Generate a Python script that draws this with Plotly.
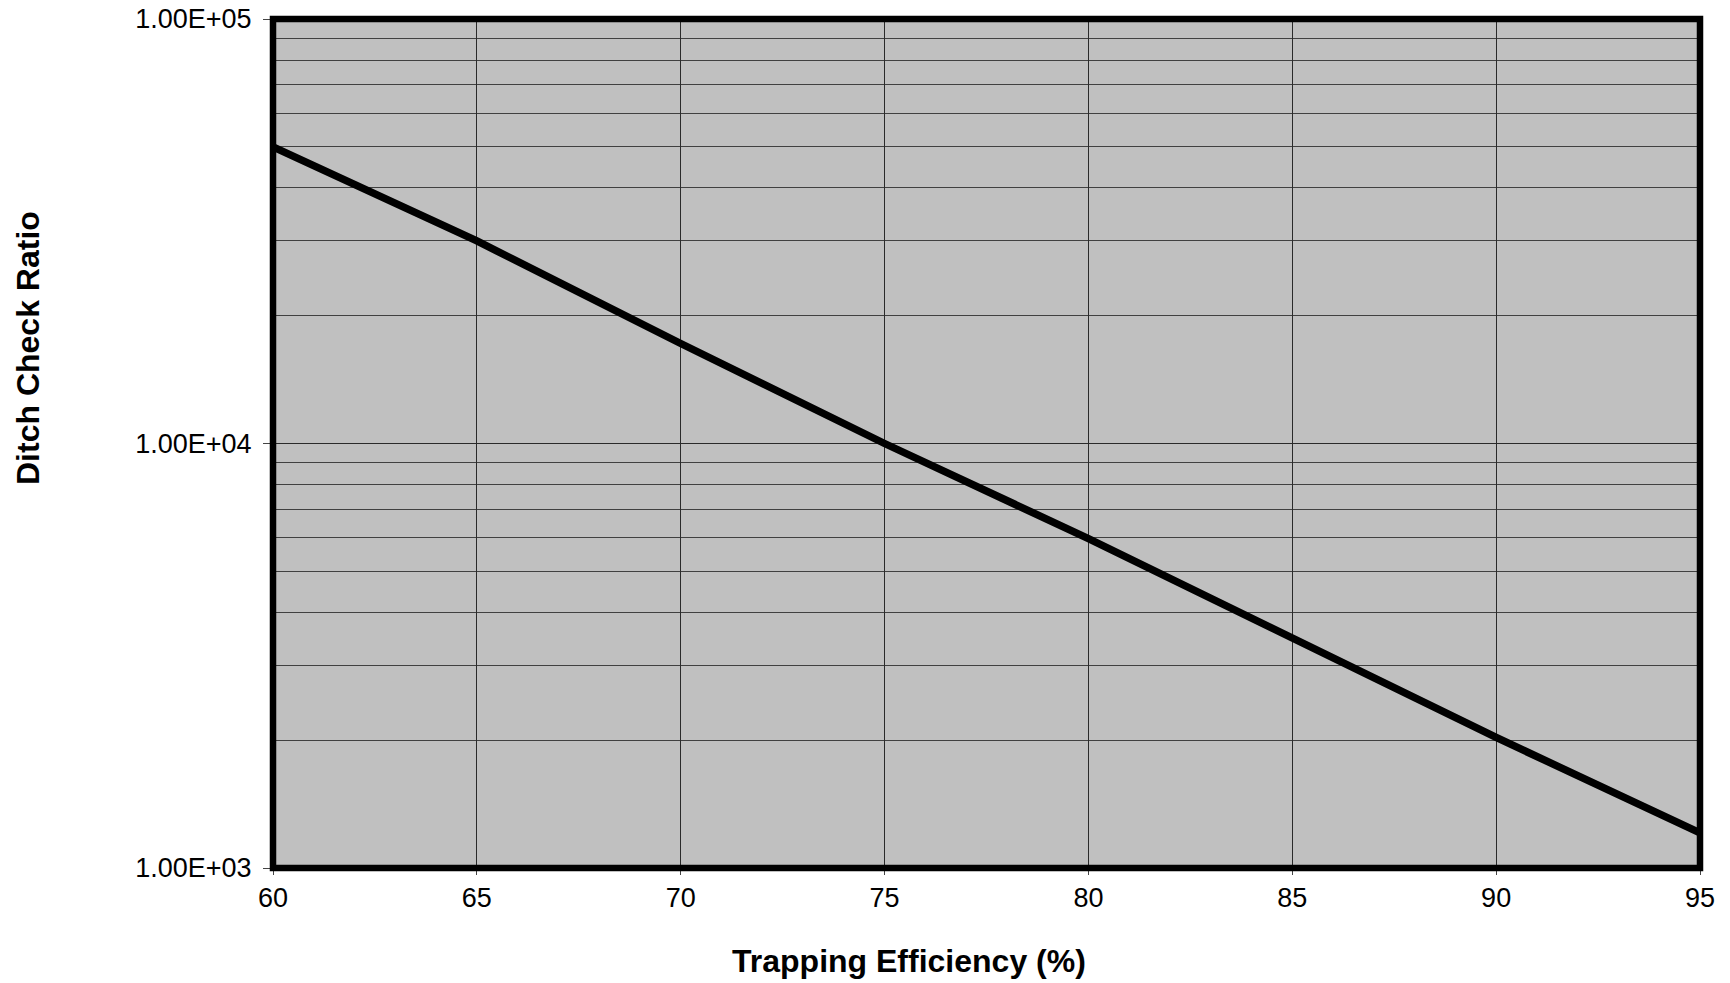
import plotly.graph_objects as go

# Data
efficiency = [60, 65, 70, 75, 80, 85, 90, 95]
ditch_ratio = [50000, 30000, 17200, 10000, 5970, 3490, 2030, 1210]

y_major = [1e3, 1e4, 1e5]
y_major_text = ["1.00E+03", "1.00E+04", "1.00E+05"]
y_minor = [m * 10 ** e for e in (3, 4) for m in range(2, 10)]
x_ticks = [60, 65, 70, 75, 80, 85, 90, 95]

FONT = "Liberation Sans, Arial, sans-serif"

L, R, T, B = 273, 1700, 19, 868

fig = go.Figure()
fig.add_trace(go.Scatter(
    x=efficiency, y=ditch_ratio, mode="lines",
    line=dict(color="black", width=7.5), showlegend=False, hoverinfo="skip",
))

fig.update_layout(
    width=1730, height=983,
    margin=dict(l=L, r=1730 - R, t=T, b=983 - B, autoexpand=False),
    paper_bgcolor="white", plot_bgcolor="#C0C0C0",
    font=dict(family=FONT, size=27, color="black"),
    showlegend=False,
)

fig.update_xaxes(
    range=[60, 95], tickvals=x_ticks, ticktext=[str(v) for v in x_ticks],
    showgrid=True, gridcolor="#2a2a2a", gridwidth=1,
    ticks="outside", ticklen=6, tickcolor="#444", tickwidth=1,
    ticklabelstandoff=0,
    showline=False, zeroline=False, automargin=False,
    tickfont=dict(family=FONT, size=27, color="black"),
)
fig.update_yaxes(
    type="log", range=[3, 5], tickvals=y_major, ticktext=y_major_text,
    showgrid=True, gridcolor="#2a2a2a", gridwidth=1,
    ticks="outside", ticklen=9, tickcolor="#444", tickwidth=1,
    ticklabelstandoff=6,
    minor=dict(tickvals=y_minor, showgrid=True, gridcolor="#404040", gridwidth=1, ticks=""),
    showline=False, zeroline=False, automargin=False,
    tickfont=dict(family=FONT, size=27, color="black"),
)

# Thick border around plot area
fig.add_shape(type="rect", xref="paper", yref="paper", x0=0, y0=0, x1=1, y1=1,
              line=dict(color="black", width=6.5), layer="above")

# Axis titles placed as annotations
fig.add_annotation(text="<b>Trapping Efficiency (%)</b>", xref="paper", yref="paper",
                   x=(909 - L) / (R - L), y=-(961 - B) / (B - T),
                   showarrow=False, font=dict(family=FONT, size=32, color="black"),
                   xanchor="center", yanchor="middle")
fig.add_annotation(text="<b>Ditch Check Ratio</b>", xref="paper", yref="paper",
                   x=-(L - 28) / (R - L), y=(B - 348) / (B - T),
                   textangle=-90, showarrow=False,
                   font=dict(family=FONT, size=32, color="black"),
                   xanchor="center", yanchor="middle")

fig.write_html(
    "out.html",
    config={"displayModeBar": False},
    post_script="document.body.style.margin='0';document.body.style.overflow='hidden';",
)
